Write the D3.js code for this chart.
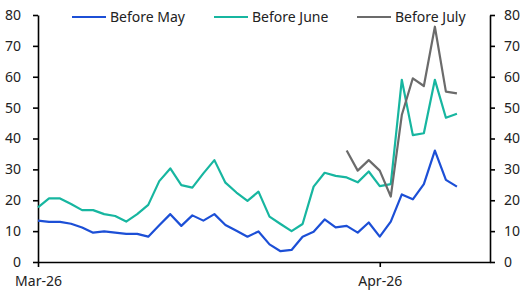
<!DOCTYPE html>
<html>
<head>
<meta charset="utf-8">
<script src="https://cdn.jsdelivr.net/npm/d3@7"></script>
<style>
  body { margin: 0; background: #fff; }
  svg text { font-family: "Noto Sans", sans-serif; fill: #222; }
</style>
</head>
<body>
<div id="chart"></div>
<script>
// Daily values, starting 1 March 2026
const startDate = new Date(2026, 2, 1);
const beforeMay = [13.4, 13.0, 13.0, 12.4, 11.2, 9.5, 9.9, 9.5, 9.1, 9.1,
    8.2, 11.9, 15.5, 11.7, 15.1, 13.4, 15.5, 12.0, 10.1, 8.2,
    9.9, 5.7, 3.5, 3.9, 8.2, 9.8, 13.8, 11.2, 11.7, 9.5,
    12.8, 8.2, 13.1, 21.9, 20.3, 25.2, 36.1, 26.6, 24.4];
const beforeJune = [17.7, 20.6, 20.6, 18.8, 16.8, 16.8, 15.5, 14.9, 13.1, 15.5,
    18.5, 26.2, 30.3, 24.9, 24.1, 28.7, 33.0, 25.7, 22.5, 19.8,
    22.8, 14.7, 12.3, 10.0, 12.3, 24.4, 28.9, 27.9, 27.4, 25.8,
    29.3, 24.6, 25.2, 59.0, 41.1, 41.7, 59.0, 46.7, 48.0];
// Before July starts on day 28 (29 March)
const julyStart = 28;
const beforeJuly = [36.1, 29.6, 33.0, 29.6, 21.2, 47.6, 59.5, 57.0, 76.2, 55.2, 54.6];

const seriesNames = ["Before May", "Before June", "Before July"];
const colors = ["#1c4fd6", "#17b6a0", "#6b6b6b"];
const yTicks = [0, 10, 20, 30, 40, 50, 60, 70, 80];
const xTicks = [new Date(2026, 2, 1), new Date(2026, 3, 1)];

const dayDate = i => d3.timeDay.offset(startDate, i);

const series = [
    beforeMay.map((v, i) => ({ date: dayDate(i), value: v })),
    beforeJune.map((v, i) => ({ date: dayDate(i), value: v })),
    beforeJuly.map((v, i) => ({ date: dayDate(julyStart + i), value: v }))
];

const W = 532, H = 302;
const m = { left: 38, right: 490, top: 15, bottom: 262 };

const svg = d3.select("#chart").append("svg")
    .attr("width", W)
    .attr("height", H);

const x = d3.scaleTime()
    .domain([startDate, new Date(2026, 3, 11)])
    .range([m.left, m.right]);

const y = d3.scaleLinear()
    .domain([0, 80])
    .range([m.bottom, m.top]);

// Axes
const styleAxis = g => {
    g.selectAll("path, line").attr("stroke", "#000").attr("stroke-width", 1.6);
    g.selectAll("text").style("font-size", "14px").attr("fill", "#222");
    g.attr("font-family", null);
};

svg.append("g")
    .attr("transform", `translate(${m.left},0)`)
    .call(d3.axisLeft(y).tickValues(yTicks).tickSize(5).tickSizeOuter(0).tickPadding(12))
    .call(styleAxis);

svg.append("g")
    .attr("transform", `translate(${m.right},0)`)
    .call(d3.axisRight(y).tickValues(yTicks).tickSize(5).tickSizeOuter(0).tickPadding(9))
    .call(styleAxis);

svg.append("g")
    .attr("transform", `translate(0,${m.bottom})`)
    .call(d3.axisBottom(x).tickValues(xTicks).tickFormat(d3.timeFormat("%b-%y"))
        .tickSize(5).tickSizeOuter(0).tickPadding(9))
    .call(styleAxis);

// Lines
const line = d3.line()
    .x(d => x(d.date))
    .y(d => y(d.value));

series.forEach((s, i) => {
    svg.append("path")
        .datum(s)
        .attr("fill", "none")
        .attr("stroke", colors[i])
        .attr("stroke-width", 2.2)
        .attr("stroke-linejoin", "round")
        .attr("d", line);
});

// Legend
const legendX = [72, 214, 357];
seriesNames.forEach((name, i) => {
    svg.append("line")
        .attr("x1", legendX[i])
        .attr("x2", legendX[i] + 34)
        .attr("y1", 17)
        .attr("y2", 17)
        .attr("stroke", colors[i])
        .attr("stroke-width", 2.2);
    svg.append("text")
        .attr("x", legendX[i] + 38)
        .attr("y", 22)
        .style("font-size", "14px")
        .text(name);
});
</script>
</body>
</html>
